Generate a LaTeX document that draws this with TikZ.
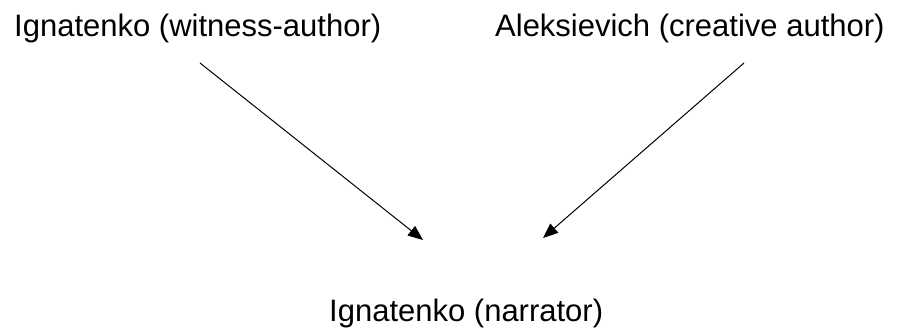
\documentclass[tikz,border=0pt]{standalone}
\usepackage{fontspec}
\setmainfont{Liberation Sans}
\usetikzlibrary{arrows.meta}
\begin{document}
\begin{tikzpicture}[x=1pt,y=-1pt,
  label text/.style={inner sep=0pt,anchor=base west,font=\fontsize{31}{36}\selectfont},
  link/.style={line width=1pt,-{Triangle[length=15pt,width=12pt]}}]
\useasboundingbox (0,0) rectangle (900,329);
\node[label text] (witness) at (14,37) {Ignatenko (witness-author)};
\node[label text] (creative) at (495,37) {Aleksievich (creative author)};
\node[label text] (narrator) at (329,321) {Ignatenko (narrator)};
% arrow ends, placed beside the three labels
\coordinate (wFrom) at (200,63);
\coordinate (cFrom) at (744,63);
\coordinate (wTo) at (423,240);
\coordinate (cTo) at (543,238);
\draw[link] (wFrom) -- (wTo);
\draw[link] (cFrom) -- (cTo);
\end{tikzpicture}
\end{document}
